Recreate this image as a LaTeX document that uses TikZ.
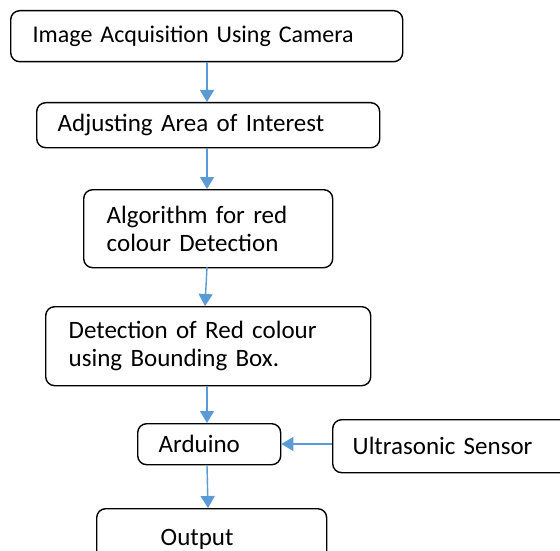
\documentclass[tikz,border=0pt]{standalone}
\usepackage{fontspec}
\setmainfont{Carlito}[WordSpace=0.7]
\usetikzlibrary{arrows.meta}
\definecolor{arrowblue}{RGB}{91,155,213}
\tikzset{
  box/.style={draw=black, line width=1.4pt, rounded corners=9pt, anchor=north west,
    align=left, font=\fontsize{25}{28}\selectfont, inner ysep=0pt},
  flow/.style={draw=arrowblue, line width=1.4pt, -{Triangle[length=12pt,width=14pt]}}
}
\newcommand{\mybox}[8][]{% opts, name, x1, y1, x2, y2, pad, text
  \pgfmathsetmacro{\bw}{#5-#3}\pgfmathsetmacro{\bh}{#6-#4}\pgfmathsetmacro{\tw}{#5-#3-2*#7}
  \node[box, minimum width=\bw pt, minimum height=\bh pt, text width=\tw pt, inner xsep=#7pt, #1] (#2) at (#3,#4) {#8};
}
\begin{document}
\begin{tikzpicture}[x=1pt,y=-1pt]
\useasboundingbox[fill=white] (0,0) rectangle (560,551);
\mybox[font=\fontsize{24}{28}\selectfont]{b1}{10}{10}{402}{61}{22}{Image Acquisition Using Camera}
\mybox{b2}{36}{102}{379}{147}{21}{Adjusting Area of Interest}
\mybox{b3}{83}{189}{332}{267}{23}{Algorithm for red\\colour Detection}
\mybox{b4}{45}{306}{370}{385}{23}{Detection of Red colour\\using Bounding Box.}
\mybox{b5}{137}{423}{280}{464}{21}{Arduino}
\mybox{b6}{332}{419}{600}{472}{20}{Ultrasonic Sensor}
\mybox{b7}{96}{508}{326}{570}{64}{Output}
\draw[flow] (b1.south -| 207,0) -- (b2.north -| 207,0);
\draw[flow] (b2.south -| 207,0) -- (b3.north -| 207,0);
\draw[flow] (207,267) -- (b4.north -| 205,0);
\draw[flow] (b4.south -| 207,0) -- (b5.north -| 207,0);
\draw[flow] (b5.south -| 207,0) -- (b7.north -| 208,0);
\draw[flow] (b6.west |- 0,444) -- (b5.east |- 0,444);
\end{tikzpicture}
\end{document}
